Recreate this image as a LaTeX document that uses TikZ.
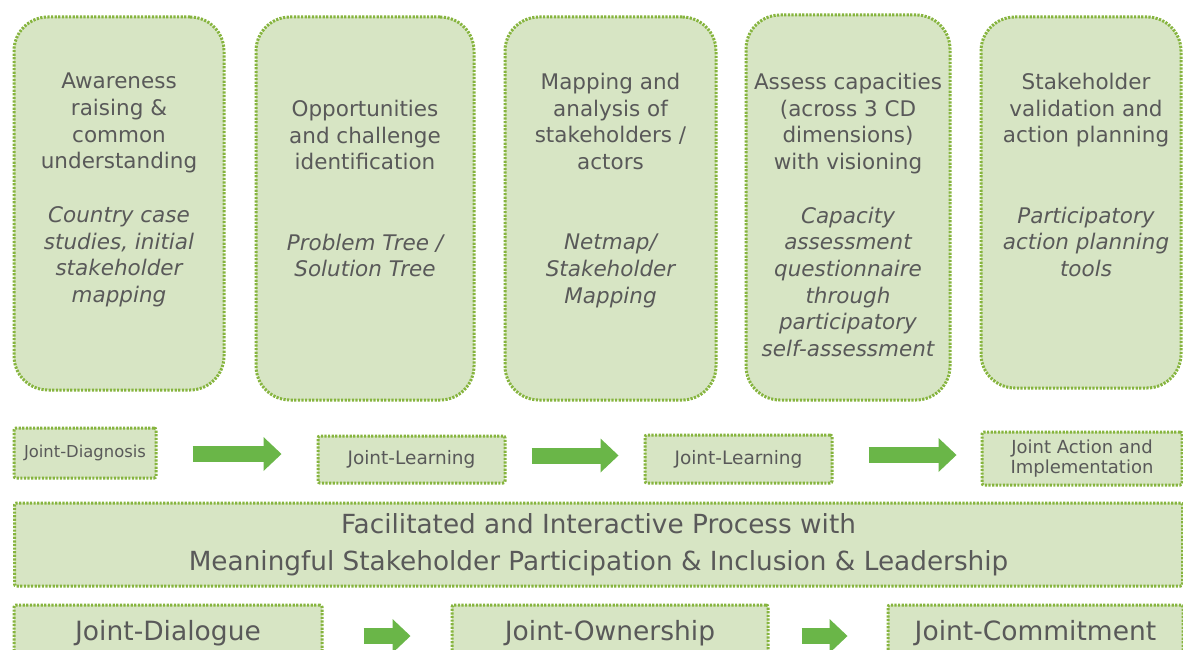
\documentclass[tikz,border=0pt]{standalone}
\usepackage{fontspec}
\setmainfont{DejaVu Sans}
\usetikzlibrary{arrows.meta}

\definecolor{boxfill}{HTML}{D7E5C4}
\definecolor{boxline}{HTML}{86B43E}
\definecolor{arrowgreen}{HTML}{6AB648}
\definecolor{txtgrey}{HTML}{595959}

\tikzset{
  panel/.style={draw=boxline, fill=boxfill, line width=3pt,
    dash pattern=on 2.2pt off 1.4pt, inner sep=0pt},
  phasebox/.style={panel, rounded corners=34pt},
  stepbox/.style={panel, rounded corners=2pt, align=center},
  phasetext/.style={anchor=north, inner sep=0pt, align=center, text=txtgrey,
    font=\fontsize{21.5}{26.7}\selectfont},
  blockarrow/.style={draw=arrowgreen, line width=16pt,
    -{Triangle[length=18pt,width=34pt,line width=0pt]}},
}

\begin{document}
\begin{tikzpicture}[x=1pt, y=-1pt]
    \useasboundingbox (0,0) rectangle (1183,650);
    \clip (0,0) rectangle (1183,650);

    % phases
    \node[phasebox, minimum width=210pt, minimum height=373pt] (p1) at (119,203.5) {};
    \node[phasebox, minimum width=218pt, minimum height=383pt] (p2) at (365,208.5) {};
    \node[phasebox, minimum width=211pt, minimum height=383pt] (p3) at (610.5,208.5) {};
    \node[phasebox, minimum width=204pt, minimum height=385pt] (p4) at (848,207.5) {};
    \node[phasebox, minimum width=200pt, minimum height=371pt] (p5) at (1081,202.5) {};

    \node[phasetext] (p1txt) at (119,73) {Awareness\\raising \&\\common\\understanding\\[26.7pt]
      \itshape Country case\\\itshape studies, initial\\\itshape stakeholder\\\itshape mapping};
    \node[phasetext] (p2txt) at (365,100) {Opportunities\\and challenge\\identification\\[53.4pt]
      \itshape Problem Tree /\\\itshape Solution Tree};
    \node[phasetext] (p3txt) at (610.5,73) {Mapping and\\analysis of\\stakeholders /\\actors\\[53.4pt]
      \itshape Netmap/\\\itshape Stakeholder\\\itshape Mapping};
    \node[phasetext] (p4txt) at (848,73) {Assess capacities\\(across 3 CD\\dimensions)\\with visioning\\[26.7pt]
      \itshape Capacity\\\itshape assessment\\\itshape questionnaire\\\itshape through\\\itshape participatory\\\itshape self-assessment};
    \node[phasetext] (p5txt) at (1086,73) {Stakeholder\\validation and\\action planning\\[53.4pt]
      \itshape Participatory\\\itshape action planning\\\itshape tools};

    % joint steps
    \node[stepbox, minimum width=142pt, minimum height=50pt, text=txtgrey,
      font=\fontsize{16.4}{19}\selectfont] (diag) at (85,453) {Joint-Diagnosis};
    \node[stepbox, minimum width=187pt, minimum height=47pt, text=txtgrey,
      font=\fontsize{18.5}{19}\selectfont] (learnA) at (411.5,459.5) {Joint-Learning};
    \node[stepbox, minimum width=187pt, minimum height=48pt, text=txtgrey,
      font=\fontsize{18.5}{19}\selectfont] (learnB) at (738.5,459) {Joint-Learning};
    \node[stepbox, minimum width=200pt, minimum height=53pt, text=txtgrey,
      font=\fontsize{18}{19.5}\selectfont] (action) at (1082,458.5) {Joint Action and\\Implementation};

    \draw[blockarrow, shorten <=35pt, shorten >=35pt] ([yshift=-1pt]diag.east) -- ([yshift=-1pt]diag.east -| learnA.west);
    \draw[blockarrow, shorten <=25pt, shorten >=25pt] ([yshift=4pt]learnA.east) -- ([yshift=4pt]learnA.east -| learnB.west);
    \draw[blockarrow, shorten <=35pt, shorten >=24pt] ([yshift=4pt]learnB.east) -- ([yshift=4pt]learnB.east -| action.west);

    % process
    \node[stepbox, minimum width=1168pt, minimum height=83pt, text=txtgrey,
      font=\fontsize{26.3}{37}\selectfont] (process) at (598.5,544.5)
      {Facilitated and Interactive Process with\\Meaningful Stakeholder Participation \& Inclusion \& Leadership};

    % joint outcomes
    \node[stepbox, minimum width=308pt, minimum height=56pt, text=txtgrey,
      font=\fontsize{26.5}{30}\selectfont] (dialogue) at (168,633) {Joint-Dialogue};
    \node[stepbox, minimum width=316pt, minimum height=56pt, text=txtgrey,
      font=\fontsize{26.5}{30}\selectfont] (owner) at (610,633) {Joint-Ownership};
    \node[stepbox, minimum width=295pt, minimum height=56pt, text=txtgrey,
      font=\fontsize{26.5}{30}\selectfont] (commit) at (1035.5,633) {Joint-Commitment};

    \draw[blockarrow, shorten <=40pt, shorten >=40pt] ([yshift=-3pt]dialogue.east) -- ([yshift=-3pt]dialogue.east -| owner.west);
    \draw[blockarrow, shorten <=32pt, shorten >=39pt] ([yshift=-3pt]owner.east) -- ([yshift=-3pt]owner.east -| commit.west);
\end{tikzpicture}
\end{document}
